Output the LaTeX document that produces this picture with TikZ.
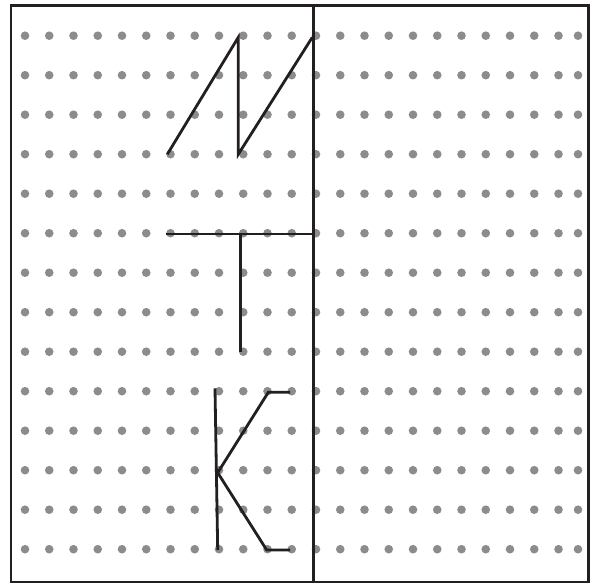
\documentclass[tikz,border=0pt]{standalone}
\definecolor{dotgray}{HTML}{8C8C8C}
\definecolor{ink}{HTML}{231F20}
\begin{document}
\begin{tikzpicture}[x=1pt,y=-1pt,
  frame/.style={draw=ink,line width=2.8pt},
  letter/.style={draw=ink,line width=2.8pt,line join=miter},
  griddot/.style={fill=dotgray}]
\useasboundingbox (0,0) rectangle (601,583);
% dots
\foreach \r in {0,...,13}{
  \foreach \c in {0,...,22}{
    \fill[griddot] ({25+24.25*\c},{35.7+39.5*\r}) circle (4.3);
  }
  \fill[griddot] (578,{35.7+39.5*\r}) circle (4.3);
}
% frame
\draw[frame] (11,5.5) rectangle (588.3,582);
\draw[frame] (313.3,5.5) -- (313.3,582);
% N
\draw[letter] (167.3,154.3) -- (238.3,37.3) -- (238.3,154.3) -- (312.3,37.3);
% T
\draw[letter] (166,234) -- (313,234);
\draw[letter] (240.7,234) -- (240.7,352.3);
% K
\draw[letter] (215,388.3) -- (217.7,550);
\draw[letter] (290,392.3) -- (268.3,392.3) -- (217.7,472.7) -- (266.7,550) -- (290,550);
\end{tikzpicture}
\end{document}
